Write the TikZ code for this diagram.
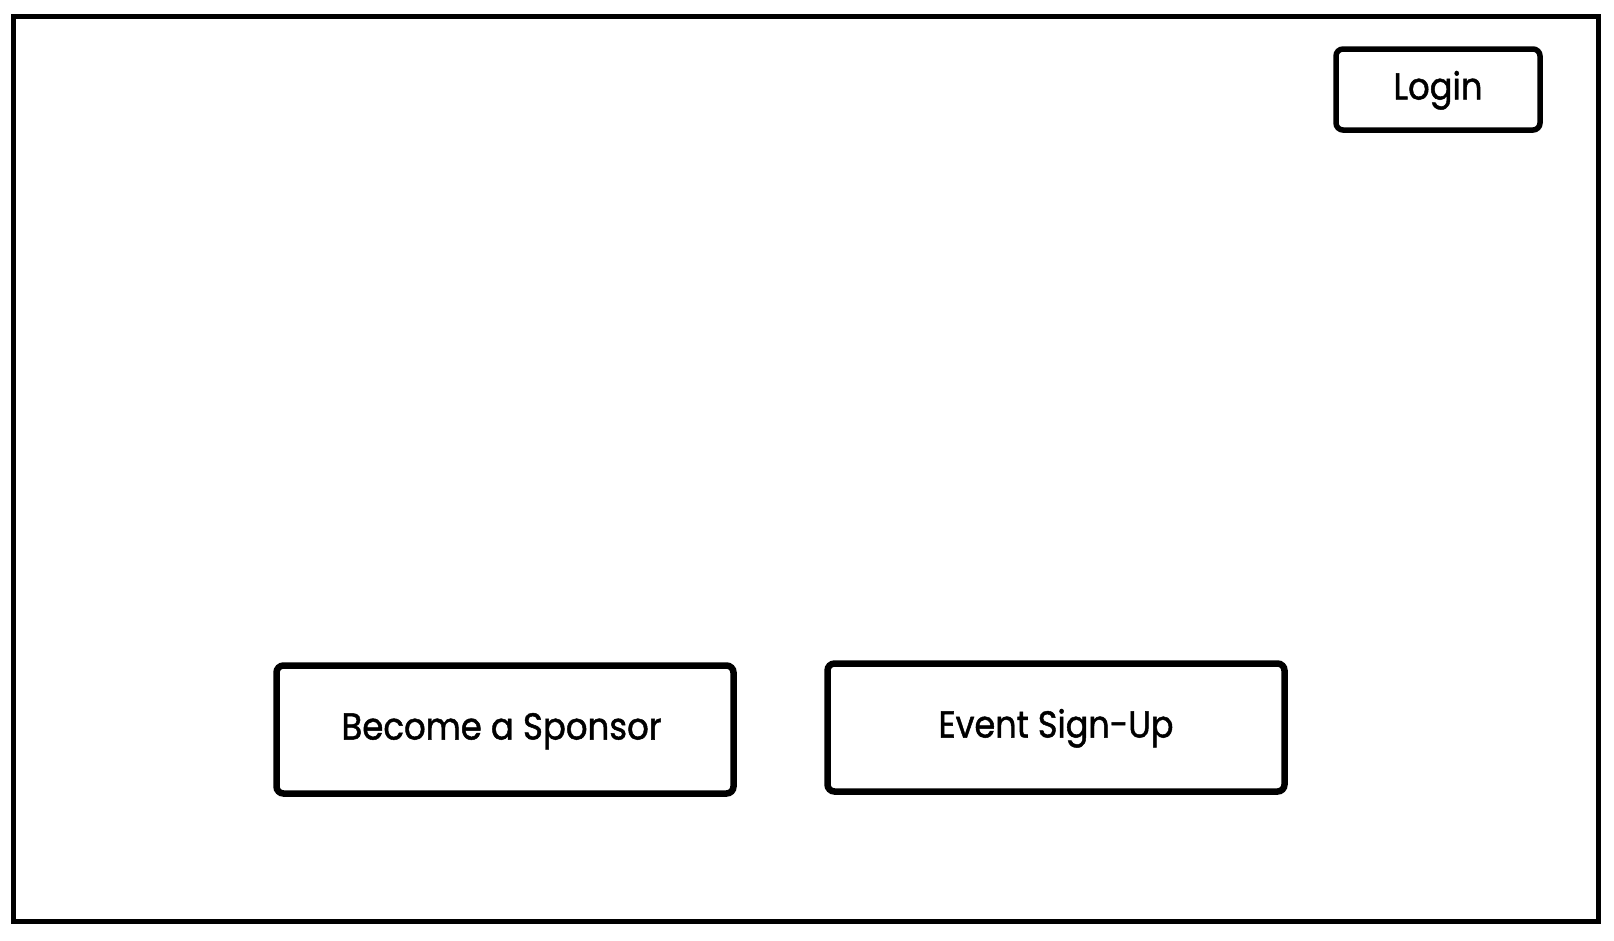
\documentclass[tikz,border=0pt]{standalone}
\usepackage{fontspec}
\setmainfont{Poppins}
\newfontfamily\btnfont{Poppins}[FakeBold=1.3]
\usepackage{graphicx}
\tikzset{
  frame/.style={draw=black, line width=5pt},
  btn/.style={draw=black, line width=6.5pt, rounded corners=7pt, fill=white,
    inner sep=0pt, text height=26pt, text depth=6pt, align=center},
  smallbtn/.style={btn, line width=5.5pt},
}
\newcommand{\btntext}[2]{\resizebox{#1}{\height}{\btnfont\fontsize{37.5}{40}\selectfont #2}}
\begin{document}
\begin{tikzpicture}[x=1pt,y=-1pt]
  \useasboundingbox (0,0) rectangle (1614,940);
  \fill[white] (0,0) rectangle (1614,940);
  \node[frame, rectangle, minimum width=1584.5pt, minimum height=905pt, inner sep=0pt] (screen) at (805.75,469) {};
  \node[smallbtn, minimum width=204pt, minimum height=81pt] (login) at (1438,89.5) {\btntext{89pt}{Login}};
  \node[btn, minimum width=457pt, minimum height=128pt] (sponsor) at (505,729.5) {\hspace*{-7pt}\btntext{320pt}{Become a Sponsor}};
  \node[btn, minimum width=457pt, minimum height=128pt] (signup) at (1056,727.5) {\btntext{235pt}{Event Sign-Up}};
\end{tikzpicture}
\end{document}
